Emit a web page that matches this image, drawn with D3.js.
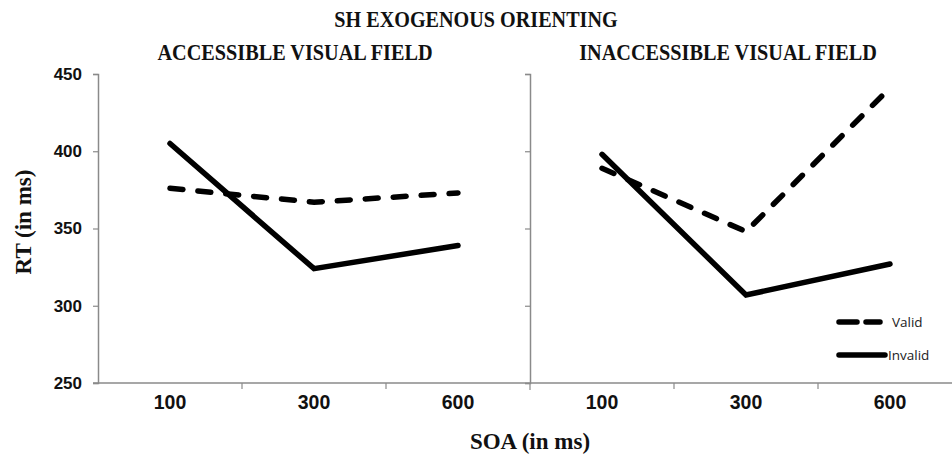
<!DOCTYPE html>
<html>
<head>
<meta charset="utf-8">
<script src="https://cdn.jsdelivr.net/npm/d3@7"></script>
<style>
  html, body { margin: 0; padding: 0; background: #fff; }
  svg { display: block; }
</style>
</head>
<body>
<svg id="chart" width="952" height="457"></svg>
<script>
// ---- data ----
const categories = ["100", "300", "600"];
const panels = ["ACCESSIBLE VISUAL FIELD", "INACCESSIBLE VISUAL FIELD"];
const accessibleValid = [376, 367, 373];
const accessibleInvalid = [405, 324, 339];
const inaccessibleValid = [389, 348, 441];
const inaccessibleInvalid = [398, 307, 327];
const yTicks = [250, 300, 350, 400, 450];
const seriesNames = ["Valid", "Invalid"];

const svg = d3.select("#chart");
const plotLeft = 98, plotMid = 530, panelW = 432;
const plotTop = 74, plotBottom = 383;

const y = d3.scaleLinear().domain([250, 450]).range([plotBottom, plotTop]);
const xL = d3.scaleBand().domain(categories).range([plotLeft, plotLeft + panelW]).padding(0);
const xR = d3.scaleBand().domain(categories).range([plotMid, plotMid + panelW]).padding(0);

const axisColor = "#8a8a8a";
const serif = "'Liberation Serif', 'Times New Roman', serif";
const sans = "'Liberation Sans', Arial, sans-serif";

// Left y axis
const yAxisL = svg.append("g").attr("transform", `translate(${plotLeft},0)`)
  .call(d3.axisLeft(y).tickValues(yTicks).tickSize(5).tickPadding(11));
yAxisL.selectAll("text").attr("font-family", sans).attr("font-weight", "bold")
  .attr("font-size", 17).attr("fill", "#111");

// Middle y axis (no labels)
const yAxisM = svg.append("g").attr("transform", `translate(${plotMid},0)`)
  .call(d3.axisLeft(y).tickValues(yTicks).tickSize(5).tickFormat(""));

// X axes
const xAxisL = svg.append("g").attr("transform", `translate(0,${plotBottom})`)
  .call(d3.axisBottom(xL).tickSize(0).tickPadding(12));
const xAxisR = svg.append("g").attr("transform", `translate(0,${plotBottom})`)
  .call(d3.axisBottom(xR).tickSize(0).tickPadding(12));
[xAxisL, xAxisR].forEach(g => {
  g.selectAll("text").attr("font-family", sans).attr("font-weight", "bold")
    .attr("font-size", 19.5).attr("fill", "#111");
});

// category separator ticks
const sepL = categories.map(c => xL(c)).concat([plotLeft + panelW]);
const sepR = categories.map(c => xR(c)).concat([plotMid + panelW]);
svg.append("g").selectAll("line").data(sepL.slice(1).concat(sepR.slice(1)))
  .join("line")
  .attr("x1", d => d).attr("x2", d => d)
  .attr("y1", plotBottom).attr("y2", d => d === plotMid ? plotBottom + 7 : plotBottom + 6)
  .attr("stroke", axisColor).attr("stroke-width", 1.2);

svg.selectAll(".domain").attr("stroke", axisColor).attr("stroke-width", 1.5);
svg.selectAll(".tick line").attr("stroke", axisColor).attr("stroke-width", 1.2);
xAxisL.select(".domain").attr("d", `M${plotLeft - 5},0H${plotLeft + panelW}`);
xAxisR.select(".domain").attr("d", `M${plotMid},0H${plotMid + panelW}`);

// Lines
const line = (xs) => d3.line().x((d, i) => xs(categories[i]) + xs.bandwidth() / 2).y(d => y(d));
const drawSeries = (vals, xs, dashed) => {
  svg.append("path").datum(vals)
    .attr("d", line(xs))
    .attr("fill", "none").attr("stroke", "#000").attr("stroke-width", 5.5)
    .attr("stroke-linecap", "round").attr("stroke-linejoin", "miter")
    .attr("stroke-dasharray", dashed ? "13,15" : null);
};
drawSeries(accessibleValid, xL, true);
drawSeries(accessibleInvalid, xL, false);
drawSeries(inaccessibleValid, xR, true);
drawSeries(inaccessibleInvalid, xR, false);

// Titles (condensed serif look)
svg.append("text").attr("transform", "translate(476,27) scale(0.84,1)").attr("text-anchor", "middle")
  .attr("font-family", serif).attr("font-weight", "bold").attr("font-size", 24)
  .attr("fill", "#111").text("SH EXOGENOUS ORIENTING");
svg.append("text").attr("transform", "translate(295,60) scale(0.9,1)").attr("text-anchor", "middle")
  .attr("font-family", serif).attr("font-weight", "bold").attr("font-size", 22.5)
  .attr("fill", "#111").text(panels[0]);
svg.append("text").attr("transform", "translate(728,60) scale(0.9,1)").attr("text-anchor", "middle")
  .attr("font-family", serif).attr("font-weight", "bold").attr("font-size", 22.5)
  .attr("fill", "#111").text(panels[1]);

// Axis titles
svg.append("text").attr("transform", "translate(31,222) rotate(-90)")
  .attr("text-anchor", "middle").attr("font-family", serif).attr("font-weight", "bold")
  .attr("font-size", 23).attr("fill", "#111").text("RT (in ms)");
svg.append("text").attr("x", 530).attr("y", 449).attr("text-anchor", "middle")
  .attr("font-family", serif).attr("font-weight", "bold").attr("font-size", 23)
  .attr("fill", "#111").text("SOA (in ms)");

// Legend
const legend = svg.append("g");
seriesNames.forEach((name, i) => {
  const ly = 322 + i * 33;
  legend.append("line").attr("x1", 839).attr("x2", i === 0 ? 880 : 885)
    .attr("y1", ly).attr("y2", ly)
    .attr("stroke", "#000").attr("stroke-width", 5.5).attr("stroke-linecap", "round")
    .attr("stroke-dasharray", i === 0 ? "18,9" : null);
  legend.append("text").attr("x", i === 0 ? 892 : 888).attr("y", ly + 5)
    .attr("font-family", "'Open Sans', sans-serif").attr("font-size", 13.5)
    .attr("fill", "#222").text(name);
});
</script>
</body>
</html>
